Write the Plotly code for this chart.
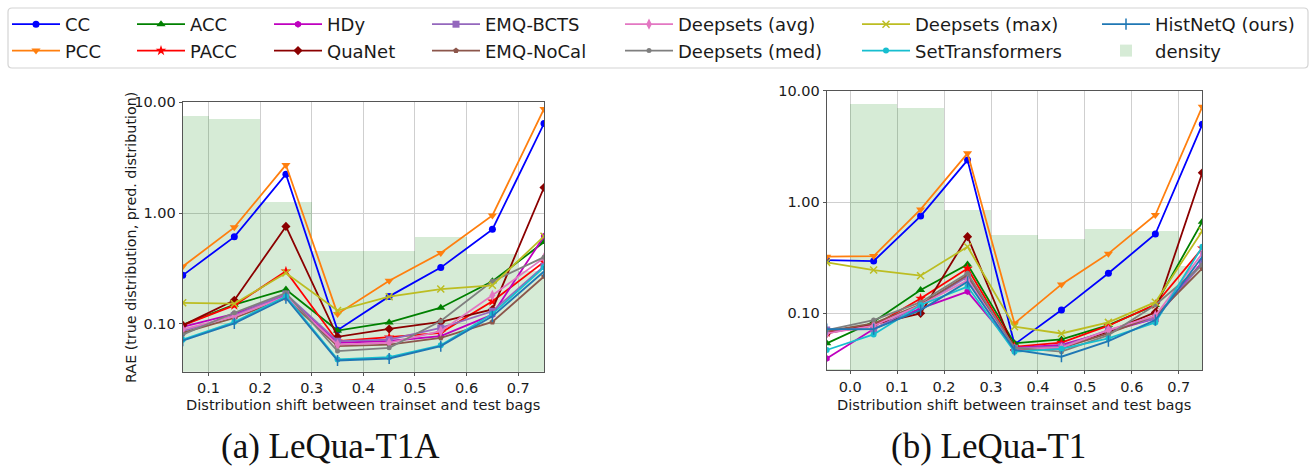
import plotly.graph_objects as go
import numpy as np

# ---------------- data ----------------
x_t1a = [0.05, 0.15, 0.25, 0.35, 0.45, 0.55, 0.65, 0.75]
x_t1 = [-0.05, 0.05, 0.15, 0.25, 0.35, 0.45, 0.55, 0.65, 0.75]

density_t1a = [7.5, 7.0, 1.26, 0.455, 0.455, 0.60, 0.425, 0.30]
density_t1 = [0.032, 7.6, 7.1, 0.86, 0.51, 0.47, 0.58, 0.55, 0.27]

methods = ["CC", "PCC", "ACC", "PACC", "HDy", "QuaNet", "EMQ-BCTS", "EMQ-NoCal",
           "Deepsets (avg)", "Deepsets (med)", "Deepsets (max)", "SetTransformers",
           "HistNetQ (ours)"]

t1a_CC = [0.274, 0.61, 2.24, 0.0877, 0.177, 0.322, 0.713, 6.43]
t1a_PCC = [0.329, 0.743, 2.72, 0.123, 0.245, 0.436, 0.953, 8.7]
t1a_ACC = [0.098, 0.149, 0.204, 0.087, 0.103, 0.140, 0.242, 0.548]
t1a_PACC = [0.097, 0.147, 0.298, 0.0698, 0.0759, 0.083, 0.160, 0.362]
t1a_HDy = [0.094, 0.123, 0.181, 0.0675, 0.070, 0.0775, 0.121, 0.617]
t1a_QuaNet = [0.097, 0.163, 0.758, 0.0764, 0.090, 0.104, 0.135, 1.70]
t1a_EMQ_BCTS = [0.086, 0.119, 0.186, 0.0698, 0.072, 0.092, 0.130, 0.331]
t1a_EMQ_NoCal = [0.083, 0.113, 0.171, 0.063, 0.065, 0.0748, 0.104, 0.268]
t1a_DS_avg = [0.089, 0.117, 0.177, 0.065, 0.0675, 0.086, 0.181, 0.394]
t1a_DS_med = [0.080, 0.126, 0.190, 0.0568, 0.0608, 0.106, 0.242, 0.40]
t1a_DS_max = [0.155, 0.152, 0.288, 0.132, 0.176, 0.206, 0.223, 0.617]
t1a_SetTr = [0.072, 0.104, 0.177, 0.0478, 0.050, 0.064, 0.123, 0.324]
t1a_HistNetQ = [0.0705, 0.101, 0.171, 0.0467, 0.0487, 0.063, 0.117, 0.297]

t1_CC = [0.301, 0.295, 0.748, 2.38, 0.0527, 0.107, 0.229, 0.516, 4.99]
t1_PCC = [0.323, 0.327, 0.859, 2.74, 0.0813, 0.182, 0.344, 0.764, 7.18]
t1_ACC = [0.0538, 0.0841, 0.162, 0.275, 0.0538, 0.0584, 0.0785, 0.119, 0.665]
t1_PACC = [0.0675, 0.0775, 0.136, 0.253, 0.0502, 0.0546, 0.0775, 0.120, 0.384]
t1_HDy = [0.0394, 0.0723, 0.111, 0.157, 0.0492, 0.052, 0.0685, 0.090, 0.291]
t1_QuaNet = [0.066, 0.0796, 0.100, 0.489, 0.0469, 0.0502, 0.0685, 0.102, 1.83]
t1_EMQ_BCTS = [0.0708, 0.0723, 0.119, 0.213, 0.0487, 0.0502, 0.0708, 0.090, 0.281]
t1_EMQ_NoCal = [0.0693, 0.0813, 0.120, 0.221, 0.048, 0.0487, 0.066, 0.0953, 0.253]
t1_DS_avg = [0.066, 0.0775, 0.119, 0.199, 0.048, 0.0492, 0.0708, 0.0953, 0.346]
t1_DS_med = [0.0708, 0.0871, 0.126, 0.229, 0.0492, 0.0453, 0.0638, 0.119, 0.272]
t1_DS_max = [0.287, 0.245, 0.218, 0.397, 0.0759, 0.066, 0.083, 0.126, 0.55]
t1_SetTr = [0.0469, 0.0647, 0.119, 0.174, 0.0453, 0.048, 0.0596, 0.083, 0.397]
t1_HistNetQ = [0.0723, 0.0723, 0.107, 0.192, 0.0469, 0.0408, 0.0564, 0.0871, 0.323]

t1a_values = [t1a_CC, t1a_PCC, t1a_ACC, t1a_PACC, t1a_HDy, t1a_QuaNet, t1a_EMQ_BCTS,
              t1a_EMQ_NoCal, t1a_DS_avg, t1a_DS_med, t1a_DS_max, t1a_SetTr, t1a_HistNetQ]
t1_values = [t1_CC, t1_PCC, t1_ACC, t1_PACC, t1_HDy, t1_QuaNet, t1_EMQ_BCTS,
             t1_EMQ_NoCal, t1_DS_avg, t1_DS_med, t1_DS_max, t1_SetTr, t1_HistNetQ]

y_tickvals = [0.1, 1, 10]
y_ticktext = ["0.10", "1.00", "10.00"]

x_title = "Distribution shift between trainset and test bags"
y_title = "RAE (true distribution, pred. distribution)"
captions = ["(a) LeQua-T1A", "(b) LeQua-T1"]

# ---------------- styles ----------------
colors = ["#0000ff", "#ff7f0e", "#008000", "#ff0000", "#bf00bf", "#8b0000", "#9467bd",
          "#8c564b", "#e377c2", "#7f7f7f", "#bcbd22", "#17becf", "#1f77b4"]
symbols = ["circle", "triangle-down", "triangle-up", "star", "hexagon", "diamond", "square",
           "pentagon", "diamond-tall", "circle", "x-thin-open", "circle", "line-ns-open"]
msizes = [7, 8, 8, 8, 7, 7, 7, 6, 8, 5, 7, 6, 8]
legend_of = ["legend", "legend", "legend2", "legend2", "legend3", "legend3", "legend4",
             "legend4", "legend5", "legend5", "legend6", "legend6", "legend7"]
density_color = "rgba(0,128,0,0.16)"

W, H = 1312, 471

fig = go.Figure()

fig.add_trace(go.Bar(x=x_t1a, y=density_t1a, width=0.1, marker=dict(color=density_color, line=dict(width=0)),
                     name="density", legend="legend7", xaxis="x", yaxis="y", showlegend=True,
                     legendrank=2000))
fig.add_trace(go.Bar(x=x_t1, y=density_t1, width=0.1, marker=dict(color=density_color, line=dict(width=0)),
                     name="density", legend="legend7", xaxis="x2", yaxis="y2", showlegend=False))

for i, m in enumerate(methods):
    mk = dict(symbol=symbols[i], size=msizes[i], color=colors[i],
              line=dict(color=colors[i], width=1.5 if "open" in symbols[i] else 0))
    fig.add_trace(go.Scatter(x=x_t1a, y=t1a_values[i], mode="lines+markers", name=m,
                             line=dict(color=colors[i], width=1.8), marker=mk,
                             legend=legend_of[i], xaxis="x", yaxis="y", showlegend=True,
                             legendrank=1000 + i))
    fig.add_trace(go.Scatter(x=x_t1, y=t1_values[i], mode="lines+markers", name=m,
                             line=dict(color=colors[i], width=1.8), marker=mk,
                             legend=legend_of[i], xaxis="x2", yaxis="y2", showlegend=False))

axis_common = dict(showgrid=True, gridcolor="#cfcfcf", gridwidth=1, showline=True, mirror=True,
                   linecolor="#555555", linewidth=1.2, ticks="outside", ticklen=3, tickcolor="#555555",
                   zeroline=False, automargin=False,
                   tickfont=dict(family="DejaVu Sans", size=14.5, color="#1a1a1a"))

title_font = dict(family="DejaVu Sans", size=14.6, color="#1a1a1a")

layout = dict(
    width=W, height=H, margin=dict(l=0, r=0, t=0, b=0, autoexpand=False),
    paper_bgcolor="white", plot_bgcolor="white", barmode="overlay", bargap=0,
    font=dict(family="DejaVu Sans", color="#1a1a1a"),
    xaxis=dict(domain=[182.7 / W, 544 / W], range=[0.05, 0.75], dtick=0.1, tick0=0.0, tickformat=".1f",
               anchor="y", **axis_common),
    yaxis=dict(domain=[1 - 371.7 / H, 1 - 102.3 / H], type="log", range=[np.log10(0.037), 1.0],
               tickvals=y_tickvals, ticktext=y_ticktext, anchor="x", **axis_common),
    xaxis2=dict(domain=[826.7 / W, 1202.3 / W], range=[-0.05, 0.75], dtick=0.1, tick0=0.0, tickformat=".1f",
                anchor="y2", **axis_common),
    yaxis2=dict(domain=[1 - 370 / H, 1 - 90.7 / H], type="log", range=[np.log10(0.031), 1.0],
                tickvals=y_tickvals, ticktext=y_ticktext, anchor="x2", **axis_common),
)

col_line_starts = [14, 139, 276, 434, 627, 864, 1104]
legend_names = ["legend", "legend2", "legend3", "legend4", "legend5", "legend6", "legend7"]
for name, xs in zip(legend_names, col_line_starts):
    layout[name] = dict(x=(xs - 7) / W, y=1 - 6 / H, xanchor="left", yanchor="top",
                        orientation="v", bgcolor="rgba(0,0,0,0)", borderwidth=0,
                        itemwidth=48, tracegroupgap=0, traceorder="normal",
                        font=dict(family="DejaVu Sans", size=18, color="#1a1a1a"))

fig.update_layout(**layout)

# legend frame (rounded rectangle)
x0, x1, y0, y1, r = 8 / W, 1308 / W, 1 - 68 / H, 1 - 8 / H, 4
rx, ry = r / W, r / H
path = (f"M{x0+rx},{y1} L{x1-rx},{y1} Q{x1},{y1} {x1},{y1-ry} L{x1},{y0+ry} Q{x1},{y0} {x1-rx},{y0} "
        f"L{x0+rx},{y0} Q{x0},{y0} {x0},{y0+ry} L{x0},{y1-ry} Q{x0},{y1} {x0+rx},{y1} Z")
fig.add_shape(type="path", path=path, xref="paper", yref="paper",
              line=dict(color="#d4d4d4", width=1.2), fillcolor="rgba(0,0,0,0)", layer="below")

# axis titles
fig.add_annotation(text=x_title, xref="paper", yref="paper", x=363 / W, y=1 - 404 / H,
                   showarrow=False, font=title_font, xanchor="center", yanchor="middle")
fig.add_annotation(text=x_title, xref="paper", yref="paper", x=1014 / W, y=1 - 404 / H,
                   showarrow=False, font=title_font, xanchor="center", yanchor="middle")
fig.add_annotation(text=y_title, xref="paper", yref="paper",
                   x=121 / W, y=1 - 238 / H, textangle=-90, showarrow=False,
                   font=dict(family="DejaVu Sans", size=14.3, color="#1a1a1a"))

cap_font = dict(family="Liberation Serif", size=35, color="#111111")
fig.add_annotation(text=captions[0], xref="paper", yref="paper", x=330 / W, y=1 - 446 / H,
                   showarrow=False, font=cap_font, xanchor="center", yanchor="middle")
fig.add_annotation(text=captions[1], xref="paper", yref="paper", x=988 / W, y=1 - 446 / H,
                   showarrow=False, font=cap_font, xanchor="center", yanchor="middle")

fig.write_html("out.html", config={"displayModeBar": False},
               post_script="document.body.style.margin='0';")
